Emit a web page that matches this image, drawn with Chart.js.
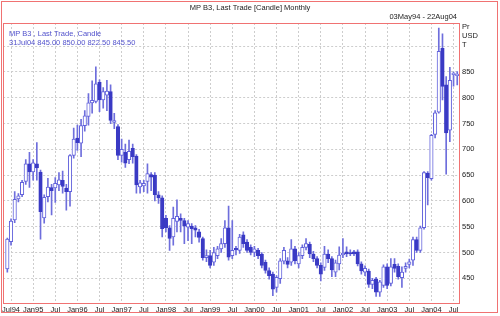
<!DOCTYPE html>
<html>
<head>
<meta charset="utf-8">
<script src="https://cdn.jsdelivr.net/npm/chart.js@4.4.0/dist/chart.umd.min.js"></script>
<style>
  html, body { margin: 0; padding: 0; background: #fff; }
  canvas { display: block; }
</style>
</head>
<body>
<canvas id="candleChart" width="500" height="316"></canvas>
<script>
// monthly candles, Jun94 .. Aug04
const months = [
  'Jun94','Jul94','Aug94','Sep94','Oct94','Nov94','Dec94',
  'Jan95','Feb95','Mar95','Apr95','May95','Jun95','Jul95','Aug95','Sep95','Oct95','Nov95','Dec95',
  'Jan96','Feb96','Mar96','Apr96','May96','Jun96','Jul96','Aug96','Sep96','Oct96','Nov96','Dec96',
  'Jan97','Feb97','Mar97','Apr97','May97','Jun97','Jul97','Aug97','Sep97','Oct97','Nov97','Dec97',
  'Jan98','Feb98','Mar98','Apr98','May98','Jun98','Jul98','Aug98','Sep98','Oct98','Nov98','Dec98',
  'Jan99','Feb99','Mar99','Apr99','May99','Jun99','Jul99','Aug99','Sep99','Oct99','Nov99','Dec99',
  'Jan00','Feb00','Mar00','Apr00','May00','Jun00','Jul00','Aug00','Sep00','Oct00','Nov00','Dec00',
  'Jan01','Feb01','Mar01','Apr01','May01','Jun01','Jul01','Aug01','Sep01','Oct01','Nov01','Dec01',
  'Jan02','Feb02','Mar02','Apr02','May02','Jun02','Jul02','Aug02','Sep02','Oct02','Nov02','Dec02',
  'Jan03','Feb03','Mar03','Apr03','May03','Jun03','Jul03','Aug03','Sep03','Oct03','Nov03','Dec03',
  'Jan04','Feb04','Mar04','Apr04','May04','Jun04','Jul04','Aug04'
];

const openPrices = [
  468, 521, 563, 604, 612, 638, 672,
  656, 672, 656, 567, 608, 626, 625, 631, 640, 625, 618, 688,
  722, 712, 746, 764, 790, 793, 830, 796, 805, 812, 752, 744,
  688, 694, 680, 702, 687, 627, 629, 638, 651, 650, 612, 606,
  566, 548, 530, 560, 566, 562, 549, 551, 548, 540, 527, 490,
  494, 481, 494, 507, 517, 548, 494, 507, 504, 534, 520, 510,
  500, 504, 497, 481, 465, 458, 432, 449, 483, 484, 481, 507,
  478, 494, 510, 516, 497, 488, 475, 471, 497, 488, 462, 478,
  495, 501, 500, 501, 501, 478, 462, 464, 438, 449, 423, 436,
  472, 440, 477, 473, 451, 469, 477, 485, 525, 504, 548, 654,
  643, 729, 772, 896, 825, 737, 845, 843
];
const highPrices = [
  528, 565, 618, 614, 640, 680, 694,
  680, 713, 660, 612, 644, 632, 645, 655, 658, 632, 690, 741,
  747, 758, 775, 808, 833, 860, 835, 820, 834, 825, 770, 748,
  720, 710, 718, 710, 690, 640, 640, 672, 655, 655, 618, 610,
  572, 552, 588, 602, 575, 566, 562, 556, 552, 545, 530, 505,
  504, 510, 512, 527, 562, 590, 562, 512, 535, 540, 525, 515,
  512, 508, 500, 485, 470, 462, 455, 488, 510, 490, 525, 512,
  500, 515, 527, 520, 502, 492, 480, 512, 505, 492, 485, 511,
  527, 511, 505, 504, 505, 482, 474, 468, 450, 452, 446, 476,
  478, 488, 488, 478, 472, 480, 487, 530, 530, 551, 657, 657,
  729, 775, 935, 924, 841, 859, 850, 851
];
const lowPrices = [
  462, 514, 558, 598, 608, 632, 626,
  640, 640, 526, 557, 598, 573, 597, 620, 615, 582, 590, 683,
  698, 686, 735, 747, 770, 790, 773, 780, 775, 750, 740, 680,
  675, 665, 672, 673, 615, 615, 618, 615, 620, 600, 595, 530,
  540, 504, 514, 540, 540, 517, 523, 517, 530, 520, 485, 482,
  470, 475, 488, 500, 510, 485, 488, 495, 498, 510, 500, 495,
  492, 488, 470, 460, 448, 416, 423, 440, 478, 470, 475, 478,
  470, 488, 505, 490, 482, 470, 445, 465, 480, 453, 453, 466,
  490, 492, 494, 494, 474, 458, 455, 432, 430, 415, 415, 432,
  430, 435, 462, 448, 432, 462, 470, 475, 500, 500, 545, 592,
  640, 722, 770, 796, 652, 715, 822.5, 825
];
const closePrices = [
  526, 561, 603, 610, 636, 672, 656,
  674, 664, 579, 607, 627, 620, 634, 641, 628, 618, 688, 720,
  713, 746, 765, 790, 795, 827, 796, 812, 813, 756, 756, 688,
  700, 673, 696, 686, 631, 635, 634, 653, 646, 612, 606, 546,
  548, 527, 566, 570, 562, 551, 556, 546, 543, 529, 490, 494,
  475, 500, 507, 517, 548, 491, 504, 505, 530, 517, 504, 500,
  507, 494, 475, 465, 455, 429, 452, 484, 504, 477, 507, 484,
  494, 510, 517, 497, 488, 475, 458, 497, 488, 466, 480, 495,
  499, 497, 497, 497, 478, 464, 469, 438, 446, 423, 443, 472,
  436, 472, 469, 453, 462, 473, 482, 525, 504, 548, 655, 645,
  727, 771, 890, 822, 732, 834, 845.5, 846
];

const tickMonths = [
  'Jul94','Jan95','Jul95','Jan96','Jul96','Jan97','Jul97','Jan98','Jul98','Jan99','Jul99',
  'Jan00','Jul00','Jan01','Jul01','Jan02','Jul02','Jan03','Jul03','Jan04','Jul04'
];
const tickLabels = [
  'Jul94','Jan95','Jul','Jan96','Jul','Jan97','Jul','Jan98','Jul','Jan99','Jul',
  'Jan00','Jul','Jan01','Jul','Jan02','Jul','Jan03','Jul','Jan04','Jul'
];

const chartTitle = 'MP B3, Last Trade [Candle] Monthly';
const dateRange = '03May94 - 22Aug04';
const legendLines = ['MP B3 , Last Trade, Candle', '31Jul04 845.00 850.00 822.50 845.50'];
const unitLines = ['Pr', 'USD', 'T'];

const FONT = '"Liberation Sans", Arial, sans-serif';
const upColor = '#6262dc';
const downColor = '#3a3ac4';
const wickColor = '#6e6edc';

const isUp = months.map((m, i) => closePrices[i] >= openPrices[i]);

const framePlugin = {
  id: 'frame',
  afterDraw(chart) {
    const { ctx, chartArea: a } = chart;
    ctx.save();
    ctx.strokeStyle = '#f07272';
    ctx.lineWidth = 1;
    ctx.strokeRect(1.5, 1.5, 496, 311);
    ctx.strokeRect(Math.round(a.left) + 0.5, Math.round(a.top) + 0.5,
      Math.round(a.right - a.left), Math.round(a.bottom - a.top));

    ctx.font = '7.5px ' + FONT;
    ctx.fillStyle = '#222';
    ctx.textBaseline = 'middle';
    ctx.textAlign = 'center';
    ctx.fillText(chartTitle, 250, 8);
    ctx.textAlign = 'right';
    ctx.fillText(dateRange, 457, 17);
    ctx.textAlign = 'left';
    unitLines.forEach((t, i) => ctx.fillText(t, 462, 27 + i * 9));

    ctx.fillStyle = '#5252cc';
    legendLines.forEach((t, i) => ctx.fillText(t, 9, 33.5 + i * 9.3));
    ctx.restore();
  }
};

new Chart(document.getElementById('candleChart'), {
  type: 'bar',
  data: {
    datasets: [
      {
        label: 'body',
        data: months.map((m, i) => ({ x: i, y: [openPrices[i], closePrices[i]] })),
        backgroundColor: isUp.map(u => u ? '#ffffff' : downColor),
        borderColor: isUp.map(u => u ? upColor : downColor),
        borderWidth: 1,
        borderSkipped: false,
        barThickness: 3.5,
        minBarLength: 1.5,
        grouped: false,
        order: 0
      },
      {
        label: 'wick',
        data: months.map((m, i) => ({ x: i, y: [lowPrices[i], highPrices[i]] })),
        backgroundColor: wickColor,
        borderWidth: 0,
        barThickness: 1,
        grouped: false,
        order: 1
      }
    ]
  },
  options: {
    responsive: false,
    animation: false,
    devicePixelRatio: 1,
    layout: { padding: { top: 23, left: 3, right: 0, bottom: 0 } },
    plugins: { legend: { display: false }, tooltip: { enabled: false } },
    scales: {
      x: {
        type: 'linear',
        min: -1.135,
        max: 122.48,
        offset: false,
        grid: { color: '#cdcdcd', drawTicks: false, offset: false },
        border: { display: false, dash: [2, 2] },
        afterBuildTicks: (s) => {
          s.ticks = tickMonths.map(m => ({ value: months.indexOf(m) }));
        },
        afterFit: (s) => { s.height = 13; },
        ticks: {
          autoSkip: false,
          maxRotation: 0,
          padding: 2,
          color: '#222',
          font: { family: FONT, size: 7.5 },
          callback: (v, i) => tickLabels[i]
        }
      },
      y: {
        type: 'linear',
        position: 'right',
        min: 402,
        max: 945,
        grid: { color: '#cdcdcd', drawTicks: false },
        border: { display: false, dash: [2, 2] },
        afterFit: (s) => { s.width = 41; },
        ticks: {
          stepSize: 50,
          includeBounds: false,
          padding: 3,
          color: '#222',
          font: { family: FONT, size: 7.5 },
          callback: (v) => v > 850 ? '' : String(v)
        }
      }
    }
  },
  plugins: [framePlugin]
});
</script>
</body>
</html>
